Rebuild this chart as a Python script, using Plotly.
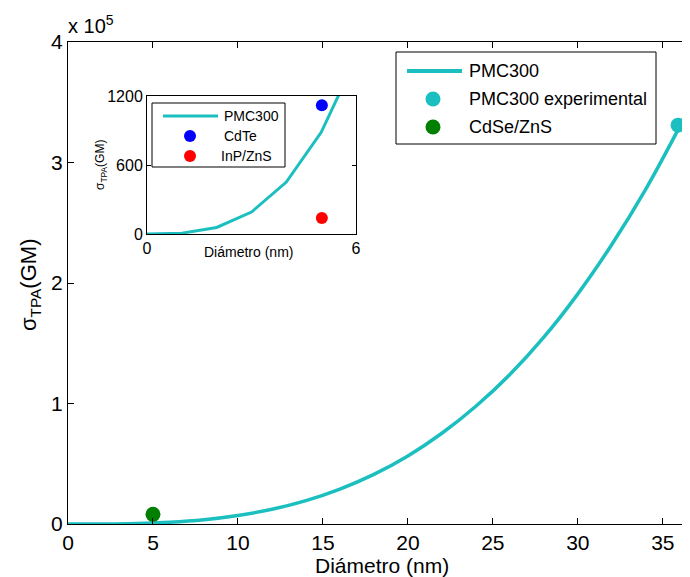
import plotly.graph_objects as go

# Main curve (PMC300, theoretical)
curve_x = [0, 2, 4, 6, 8, 10, 12, 14, 16, 18, 20, 22, 24, 26, 28, 30, 32, 34, 36, 37]
curve_y = [0, 60, 450, 1500, 3600, 7100, 12200, 19400, 29000, 41200, 56500, 75300,
           97700, 124000, 155000, 191000, 232000, 278000, 330000, 358000]

exp_x = [35.9]
exp_y = [331000]

cdse_x = [5]
cdse_y = [8000]

# Inset data
inset_x = [0, 1, 2, 3, 4, 5, 6]
inset_y = [0, 7, 57, 191, 452, 884, 1527]
cdte_x = [5.02]
cdte_y = [1120]
inp_x = [5.02]
inp_y = [140]

main_yticks = [0, 100000, 200000, 300000, 400000]
main_yticktext = ["0", "1", "2", "3", "4"]
main_xticks = [0, 5, 10, 15, 20, 25, 30, 35, 40]

main_legend = ["PMC300", "PMC300 experimental", "CdSe/ZnS"]
inset_legend = ["PMC300", "CdTe", "InP/ZnS"]

CYAN = "#1CBFBF"
GREEN = "#007F00"
BLUE = "#0000FF"
RED = "#FF0000"
FONT = "Liberation Sans, Arial, sans-serif"

fig = go.Figure()

fig.add_trace(go.Scatter(x=curve_x, y=curve_y, mode="lines", name=main_legend[0],
                         line=dict(color=CYAN, width=3.5, shape="spline"),
                         xaxis="x", yaxis="y"))
fig.add_trace(go.Scatter(x=exp_x, y=exp_y, mode="markers", name=main_legend[1],
                         marker=dict(color=CYAN, size=15), cliponaxis=False,
                         xaxis="x", yaxis="y"))
fig.add_trace(go.Scatter(x=cdse_x, y=cdse_y, mode="markers", name=main_legend[2],
                         marker=dict(color=GREEN, size=15), cliponaxis=False,
                         xaxis="x", yaxis="y"))

fig.add_trace(go.Scatter(x=inset_x, y=inset_y, mode="lines", name=inset_legend[0],
                         line=dict(color=CYAN, width=3),
                         xaxis="x2", yaxis="y2"))
fig.add_trace(go.Scatter(x=cdte_x, y=cdte_y, mode="markers", name=inset_legend[1],
                         marker=dict(color=BLUE, size=12),
                         xaxis="x2", yaxis="y2"))
fig.add_trace(go.Scatter(x=inp_x, y=inp_y, mode="markers", name=inset_legend[2],
                         marker=dict(color=RED, size=12),
                         xaxis="x2", yaxis="y2"))

# page body has an 8px margin: figure pixel = screen pixel - 8
OFF = 8
W, H = 690 - OFF, 577 - OFF
L, T, B = 68 - OFF, 42 - OFF, 53
pw, ph = W - L, H - T - B


def px(xs):
    return (xs - OFF - L) / pw


def py(ys):
    return (H - B - (ys - OFF)) / ph


fig.update_layout(
    width=W, height=H,
    margin=dict(l=L, r=0, t=T, b=B, autoexpand=False),
    paper_bgcolor="white", plot_bgcolor="white",
    font=dict(family=FONT, color="black"),
    showlegend=False,
    xaxis=dict(domain=[0, 1], range=[0, 36.6], tickvals=main_xticks,
               showgrid=False, zeroline=False, showline=True, linecolor="black",
               linewidth=1, mirror="ticks", ticks="inside", ticklen=6,
               tickcolor="black", tickfont=dict(size=21), automargin=False),
    yaxis=dict(domain=[0, 1], range=[0, 400000], tickvals=main_yticks,
               ticktext=main_yticktext, showgrid=False, zeroline=False,
               showline=True, linecolor="black", linewidth=1, mirror=False,
               ticks="inside", ticklen=6, tickcolor="black",
               tickfont=dict(size=21), automargin=False),
    xaxis2=dict(domain=[px(147), px(356)], anchor="y2", range=[0, 6],
                tickvals=[0, 6], showgrid=False, zeroline=False, showline=True,
                linecolor="black", linewidth=1, mirror="ticks", ticks="inside",
                ticklen=4, tickcolor="black", tickfont=dict(size=16),
                automargin=False),
    yaxis2=dict(domain=[py(234), py(96)], anchor="x2", range=[0, 1200],
                tickvals=[0, 600, 1200], showgrid=False, zeroline=False,
                showline=True, linecolor="black", linewidth=1, mirror="ticks",
                ticks="inside", ticklen=4, tickcolor="black",
                tickfont=dict(size=16), automargin=False),
)

shapes = []
annos = []

# inset background
shapes.append(dict(type="rect", xref="paper", yref="paper",
                   x0=px(147), x1=px(356), y0=py(234), y1=py(96),
                   fillcolor="white", line=dict(width=0), layer="below"))

# ---- main legend (box, swatches, text)
shapes.append(dict(type="rect", xref="paper", yref="paper",
                   x0=px(396), x1=px(656), y0=py(144), y1=py(52),
                   fillcolor="white", line=dict(color="black", width=1)))
shapes.append(dict(type="line", xref="paper", yref="paper",
                   x0=px(407), x1=px(462), y0=py(71), y1=py(71),
                   line=dict(color=CYAN, width=4)))
for yc, col in [(99, CYAN), (127, GREEN)]:
    shapes.append(dict(type="circle", xref="paper", yref="paper",
                       x0=px(433 - 7.5), x1=px(433 + 7.5),
                       y0=py(yc + 7.5), y1=py(yc - 7.5),
                       fillcolor=col, line=dict(width=0)))
for yc, txt in zip([71, 99, 127], main_legend):
    annos.append(dict(text=txt, xref="paper", yref="paper", x=px(467), y=py(yc),
                      xanchor="left", yanchor="middle", showarrow=False,
                      font=dict(size=18)))

# ---- inset legend
shapes.append(dict(type="rect", xref="paper", yref="paper",
                   x0=px(152), x1=px(285), y0=py(167), y1=py(103),
                   fillcolor="white", line=dict(color="black", width=1)))
shapes.append(dict(type="line", xref="paper", yref="paper",
                   x0=px(163), x1=px(218), y0=py(116), y1=py(116),
                   line=dict(color=CYAN, width=3)))
for yc, col in [(136, BLUE), (156, RED)]:
    shapes.append(dict(type="circle", xref="paper", yref="paper",
                       x0=px(190 - 6), x1=px(190 + 6),
                       y0=py(yc + 6), y1=py(yc - 6),
                       fillcolor=col, line=dict(width=0)))
for yc, txt, xs in zip([116, 136, 156], inset_legend, [222, 222, 219]):
    annos.append(dict(text=txt, xref="paper", yref="paper", x=px(xs), y=py(yc),
                      xanchor="left", yanchor="middle", showarrow=False,
                      font=dict(size=14)))

# ---- titles and exponent
annos.append(dict(text="x 10<sup>5</sup>", xref="paper", yref="paper",
                  x=px(66), y=py(25), xanchor="left", yanchor="middle",
                  showarrow=False, font=dict(size=20)))
annos.append(dict(text="Diámetro (nm)", xref="paper", yref="paper",
                  x=px(382), y=py(565), xanchor="center", yanchor="middle",
                  showarrow=False, font=dict(size=21)))
annos.append(dict(text="σ<sub>TPA</sub>(GM)", xref="paper", yref="paper",
                  x=px(30), y=py(285), xanchor="center", yanchor="middle",
                  textangle=-90, showarrow=False, font=dict(size=22)))
annos.append(dict(text="σ<sub>TPA</sub>(GM)", xref="paper", yref="paper",
                  x=px(101), y=py(165), xanchor="center", yanchor="middle",
                  textangle=-90, showarrow=False, font=dict(size=12)))
annos.append(dict(text="Diámetro (nm)", xref="paper", yref="paper",
                  x=px(248), y=py(252), xanchor="center", yanchor="middle",
                  showarrow=False, font=dict(size=14)))

fig.update_layout(shapes=shapes, annotations=annos)

fig.write_html("out.html")
